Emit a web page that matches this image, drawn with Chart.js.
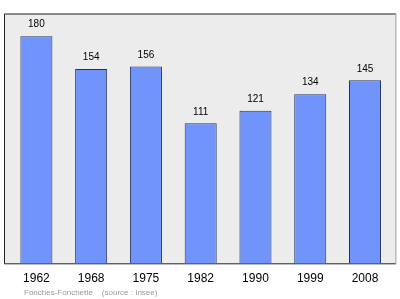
<!DOCTYPE html>
<html>
<head>
<meta charset="utf-8">
<script src="https://cdn.jsdelivr.net/npm/chart.js@4"></script>
<style>
  html, body { margin: 0; padding: 0; background: #fff; }
  #wrap { width: 400px; height: 299px; }
</style>
</head>
<body>
<div id="wrap"><canvas id="popChart" width="400" height="299"></canvas></div>
<script>
const years = ['1962', '1968', '1975', '1982', '1990', '1999', '2008'];
const population = [180, 154, 156, 111, 121, 134, 145];
const footerText = 'Fonches-Fonchette    (source : Insee)';

// grey frame behind the bars, a little wider than the category area
const framePlugin = {
    id: 'frame',
    beforeDatasetsDraw(chart) {
        const { ctx, chartArea } = chart;
        const x0 = chartArea.left - 5, x1 = chartArea.right + 3;
        ctx.save();
        ctx.fillStyle = '#ececec';
        ctx.fillRect(x0, chartArea.top, x1 - x0, chartArea.bottom - chartArea.top);
        ctx.strokeStyle = '#222';
        ctx.lineWidth = 1;
        ctx.beginPath();
        ctx.moveTo(x1 + 0.5, chartArea.top + 0.5);
        ctx.lineTo(x0 + 0.5, chartArea.top + 0.5);
        ctx.lineTo(x0 + 0.5, chartArea.bottom + 0.5);
        ctx.lineTo(x1 + 0.5, chartArea.bottom + 0.5);
        ctx.stroke();
        ctx.strokeStyle = '#999';
        ctx.beginPath();
        ctx.moveTo(x1 + 0.5, chartArea.top + 0.5);
        ctx.lineTo(x1 + 0.5, chartArea.bottom + 0.5);
        ctx.stroke();
        ctx.restore();
    },
    afterDatasetsDraw(chart) {
        const { ctx, chartArea } = chart;
        const meta = chart.getDatasetMeta(0);
        ctx.save();
        ctx.font = '10px "Liberation Sans", Arial, sans-serif';
        ctx.fillStyle = '#000';
        ctx.textAlign = 'center';
        ctx.textBaseline = 'middle';
        meta.data.forEach((bar, i) => {
            ctx.fillText(String(population[i]), bar.x, bar.y - 11.5);
        });
        ctx.font = '8px "Liberation Sans", Arial, sans-serif';
        ctx.fillStyle = '#999';
        ctx.textAlign = 'left';
        ctx.fillText(footerText, chartArea.left + 15, chart.height - 6.5);
        ctx.restore();
    }
};

new Chart(document.getElementById('popChart').getContext('2d'), {
    type: 'bar',
    data: {
        labels: years,
        datasets: [{
            data: population,
            backgroundColor: '#7094fc',
            borderColor: '#26325e',
            borderWidth: 1,
            borderSkipped: 'bottom',
            categoryPercentage: 1,
            barPercentage: 0.585
        }]
    },
    options: {
        responsive: false,
        animation: false,
        layout: { padding: { left: 9, right: 7.6, top: 13.5, bottom: 5.3 } },
        plugins: { legend: { display: false }, tooltip: { enabled: false } },
        scales: {
            x: {
                grid: { display: false, drawTicks: false },
                border: { display: false },
                ticks: {
                    padding: 8,
                    color: '#000',
                    font: { family: '"Liberation Sans", Arial, sans-serif', size: 12 }
                }
            },
            y: { display: false, min: 0, max: 198 }
        }
    },
    plugins: [framePlugin]
});
</script>
</body>
</html>
